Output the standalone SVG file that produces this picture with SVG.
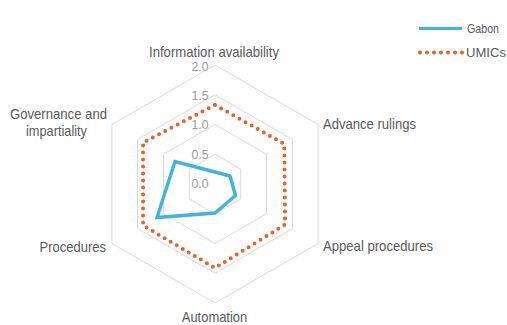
<svg xmlns="http://www.w3.org/2000/svg" width="507" height="325" viewBox="0 0 507 325">
  <style>
    .ring { fill: none; stroke: #D9D9D9; stroke-width: 1; }
    .tick { font-family: "Liberation Sans Narrow", "Liberation Sans", Arial, sans-serif; font-size: 12px; fill: #9A9A9A; text-anchor: end; }
    .lbl { font-family: "Liberation Sans Narrow", "Liberation Sans", Arial, sans-serif; font-size: 15px; fill: #595959; }
    .leg { font-family: "Liberation Sans Narrow", "Liberation Sans", Arial, sans-serif; font-size: 13.5px; fill: #595959; }
    .gabon { fill: none; stroke: #3FB4DC; stroke-width: 3.4; stroke-linejoin: miter; }
    .umics { fill: none; stroke: #E8622C; stroke-width: 4; stroke-linecap: round; stroke-dasharray: 0 7; }
  </style>
  <rect width="507" height="325" fill="#FFFFFF"/>
  <g id="grid">
    <polygon class="ring" points="215,154.25 240.76,169.13 240.76,198.88 215,213.75 189.24,198.88 189.24,169.13"/>
    <polygon class="ring" points="215,124.5 266.53,154.25 266.53,213.75 215,243.5 163.47,213.75 163.47,154.25"/>
    <polygon class="ring" points="215,94.75 292.29,139.38 292.29,228.63 215,273.25 137.71,228.63 137.71,139.38"/>
    <polygon class="ring" points="215,65 318.06,124.5 318.06,243.5 215,303 111.94,243.5 111.94,124.5"/>
  </g>
  <g id="ticks">
    <text class="tick" x="208.5" y="70.5" textLength="17" lengthAdjust="spacingAndGlyphs">2.0</text>
    <text class="tick" x="208.5" y="99.5" textLength="17" lengthAdjust="spacingAndGlyphs">1.5</text>
    <text class="tick" x="208.5" y="129" textLength="17" lengthAdjust="spacingAndGlyphs">1.0</text>
    <text class="tick" x="208.5" y="158.5" textLength="17" lengthAdjust="spacingAndGlyphs">0.5</text>
    <text class="tick" x="208.5" y="188" textLength="17" lengthAdjust="spacingAndGlyphs">0.0</text>
  </g>
  <g id="series">
    <polygon id="umics-series" class="umics" points="215,105 284.3,144 285.1,224.5 215,268 143.1,225.5 143.1,142.5"/>
    <polygon id="gabon-series" class="gabon" points="215,172 230,176 235.5,195.5 215,213 157,217.5 175,161.5"/>
  </g>
  <g id="axis-labels">
    <text id="lbl-info" class="lbl" x="214" y="57" text-anchor="middle" textLength="130" lengthAdjust="spacingAndGlyphs">Information availability</text>
    <text id="lbl-adv" class="lbl" x="323" y="128.5" textLength="93" lengthAdjust="spacingAndGlyphs">Advance rulings</text>
    <text id="lbl-appeal" class="lbl" x="323" y="251" textLength="110" lengthAdjust="spacingAndGlyphs">Appeal procedures</text>
    <text id="lbl-auto" class="lbl" x="214.5" y="322" text-anchor="middle" textLength="65.5" lengthAdjust="spacingAndGlyphs">Automation</text>
    <text id="lbl-proc" class="lbl" x="106" y="252" text-anchor="end" textLength="66.5" lengthAdjust="spacingAndGlyphs">Procedures</text>
    <text id="lbl-gov1" class="lbl" x="58.5" y="118.5" text-anchor="middle" textLength="97" lengthAdjust="spacingAndGlyphs">Governance and</text>
    <text id="lbl-gov2" class="lbl" x="56.5" y="135.5" text-anchor="middle" textLength="61" lengthAdjust="spacingAndGlyphs">impartiality</text>
  </g>
  <g id="legend">
    <line x1="419" y1="28.5" x2="462" y2="28.5" stroke="#3FB4DC" stroke-width="3"/>
    <text class="leg" x="467" y="33" textLength="32" lengthAdjust="spacingAndGlyphs">Gabon</text>
    <line class="umics" x1="420" y1="52.5" x2="463" y2="52.5"/>
    <text class="leg" x="466" y="57" textLength="40" lengthAdjust="spacingAndGlyphs">UMICs</text>
  </g>
</svg>
